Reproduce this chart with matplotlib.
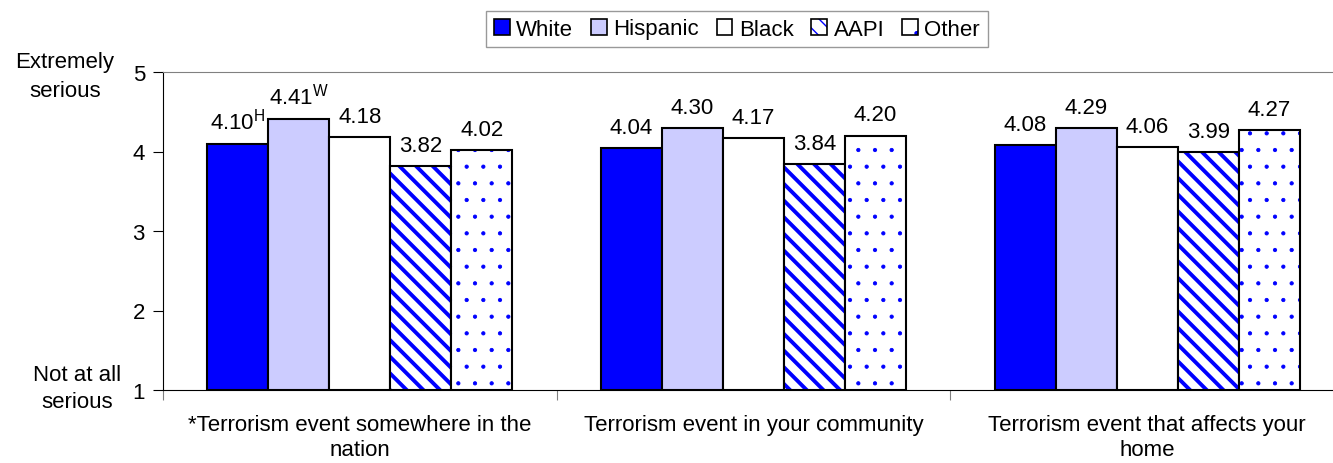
import matplotlib
matplotlib.use("Agg")
import matplotlib.pyplot as plt
from matplotlib.legend_handler import HandlerTuple
import numpy as np

plt.rcParams["font.family"] = ["Liberation Sans", "DejaVu Sans"]
plt.rcParams["mathtext.fontset"] = "custom"
plt.rcParams["mathtext.rm"] = "Liberation Sans"
plt.rcParams["mathtext.it"] = "Liberation Sans"

CATEGORIES = [
    "*Terrorism event somewhere in the\nnation",
    "Terrorism event in your community",
    "Terrorism event that affects your\nhome",
]
GROUPS = ["White", "Hispanic", "Black", "AAPI", "Other"]
WHITE = [4.10, 4.04, 4.08]
HISPANIC = [4.41, 4.30, 4.29]
BLACK = [4.18, 4.17, 4.06]
AAPI = [3.82, 3.84, 3.99]
OTHER = [4.02, 4.20, 4.27]
SUPERSCRIPTS = {("White", 0): "H", ("Hispanic", 0): "W"}

SERIES = [WHITE, HISPANIC, BLACK, AAPI, OTHER]
FACES = ["#0000FF", "#CCCCFF", "white", "white", "white"]
HATCHES = [None, None, None, "\\\\", "."]
HATCH_LW = [1.0, 1.0, 1.0, 2.8, 0.6]
FS = 16

W, H = 1333, 464
fig = plt.figure(figsize=(W / 100, H / 100), dpi=100)
ax = fig.add_axes([163 / W, 1 - 391 / H, (1344 - 163) / W, (391 - 73) / H])


def hatched(artist, lw):
    if hasattr(artist, "set_hatch_linewidth"):
        artist.set_hatch_linewidth(lw)


x = np.arange(len(CATEGORIES))
bw = 0.155
handles = []
for i, (name, vals) in enumerate(zip(GROUPS, SERIES)):
    pos = x + (i - 2) * bw
    heights = np.array(vals) - 1
    outline = plt.Rectangle((0, 0), 1, 1, facecolor=FACES[i], edgecolor="black", linewidth=1.2)
    if HATCHES[i]:
        with plt.rc_context({"hatch.linewidth": HATCH_LW[i], "hatch.color": "#0000FF"}):
            hb = ax.bar(pos, heights, bw, bottom=1, color="white", edgecolor="#0000FF",
                        linewidth=0, hatch=HATCHES[i])
            fill = plt.Rectangle((0, 0), 1, 1, facecolor="white", edgecolor="#0000FF",
                                 linewidth=0, hatch=HATCHES[i])
        for p in list(hb) + [fill]:
            hatched(p, HATCH_LW[i])
        ax.bar(pos, heights, bw, bottom=1, fill=False, edgecolor="black", linewidth=1.5)
        outline = plt.Rectangle((0, 0), 1, 1, fill=False, edgecolor="black", linewidth=1.2)
        handles.append((fill, outline))
    else:
        ax.bar(pos, heights, bw, bottom=1, color=FACES[i], edgecolor="black", linewidth=1.5)
        handles.append(outline)
    for j, (p, v) in enumerate(zip(pos, vals)):
        sup = SUPERSCRIPTS.get((name, j))
        txt = f"{v:.2f}" + (f"$^{{\\mathregular{{{sup}}}}}$" if sup else "")
        ax.text(p, v + 0.19, txt, ha="center", va="baseline", fontsize=FS)

ax.set_xlim(-0.5, 2.5)
ax.set_ylim(1, 5)
ax.set_yticks([1, 2, 3, 4, 5])
ax.tick_params(axis="y", labelsize=FS, length=7, direction="out", pad=6)
ax.set_xticks([-0.5, 0.5, 1.5, 2.5])
ax.set_xticklabels([])
ax.tick_params(axis="x", length=7, color="gray", direction="out")
ax.set_xticks(x, minor=True)
ax.set_xticklabels(CATEGORIES, minor=True, fontsize=FS, linespacing=1.3)
ax.tick_params(axis="x", which="minor", length=0, pad=17)
ax.spines["top"].set_color("gray")
ax.spines["right"].set_visible(False)

fig.text(65 / W, 1 - 77 / H, "Extremely\nserious", ha="center", va="center",
         fontsize=FS, linespacing=1.5)
fig.text(77 / W, 1 - 389 / H, "Not at all\nserious", ha="center", va="center",
         fontsize=FS, linespacing=1.4)

fig.legend(handles=handles, labels=GROUPS, loc="center",
           bbox_to_anchor=(737 / W, 1 - 30 / H), ncol=5,
           handler_map={tuple: HandlerTuple(ndivide=1, pad=0)},
           fontsize=FS, frameon=True, fancybox=False, edgecolor="gray", handlelength=0.7,
           handleheight=0.7, handletextpad=0.3, columnspacing=0.8, borderpad=0.35)

fig.savefig("out.png", dpi=100)
